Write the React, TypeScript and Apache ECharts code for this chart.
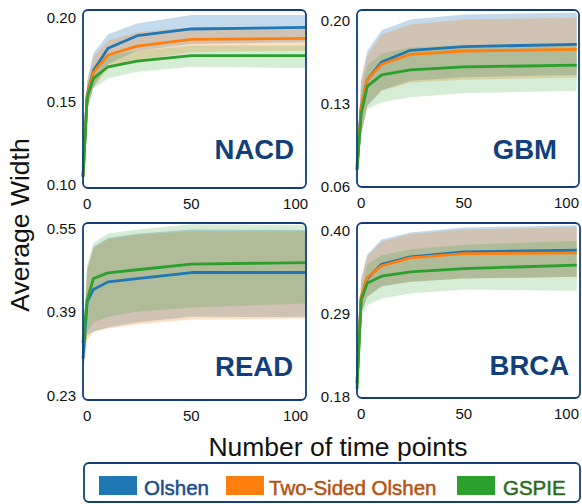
import React, { useEffect, useRef } from "react";
import * as echarts from "echarts";

// ---- data ----
const timePoints = [-2, 0, 3, 10, 24, 50, 105];
const methods = ["Olshen", "Two-Sided Olshen", "GSPIE"];
const panelNames = ["NACD", "GBM", "READ", "BRCA"];

const nacdOlshen = [0.105, 0.1536, 0.168, 0.1814, 0.1889, 0.1929, 0.1939];
const nacdOlshenUpper = [0.11, 0.162, 0.1784, 0.1897, 0.1962, 0.2012, 0.2012];
const nacdOlshenLower = [0.1, 0.145, 0.158, 0.172, 0.18, 0.184, 0.185];
const nacdTwoSided = [0.105, 0.153, 0.167, 0.1774, 0.1827, 0.1867, 0.1873];
const nacdTwoSidedUpper = [0.11, 0.161, 0.176, 0.186, 0.191, 0.194, 0.194];
const nacdTwoSidedLower = [0.1, 0.145, 0.158, 0.169, 0.174, 0.179, 0.18];
const nacdGspie = [0.105, 0.152, 0.1635, 0.1704, 0.1738, 0.177, 0.177];
const nacdGspieUpper = [0.11, 0.159, 0.171, 0.177, 0.18, 0.183, 0.183];
const nacdGspieLower = [0.1, 0.146, 0.1575, 0.1635, 0.1674, 0.1704, 0.1695];

const gbmOlshen = [0.0739, 0.1254, 0.1499, 0.1649, 0.1747, 0.1778, 0.1797];
const gbmOlshenUpper = [0.085, 0.15, 0.1741, 0.1916, 0.2006, 0.2048, 0.2062];
const gbmOlshenLower = [0.065, 0.105, 0.128, 0.141, 0.149, 0.152, 0.154];
const gbmTwoSided = [0.078, 0.1254, 0.1499, 0.163, 0.1713, 0.1741, 0.1755];
const gbmTwoSidedUpper = [0.088, 0.148, 0.17, 0.188, 0.1964, 0.2006, 0.202];
const gbmTwoSidedLower = [0.068, 0.103, 0.1282, 0.1407, 0.1477, 0.15, 0.1519];
const gbmGspie = [0.075, 0.1212, 0.1444, 0.1541, 0.1582, 0.1607, 0.1622];
const gbmGspieUpper = [0.085, 0.14, 0.162, 0.172, 0.177, 0.179, 0.18];
const gbmGspieLower = [0.065, 0.102, 0.1254, 0.131, 0.1352, 0.1385, 0.1407];

const readOlshen = [0.3005, 0.4091, 0.4329, 0.4475, 0.4538, 0.4655, 0.4655];
const readOlshenUpper = [0.33, 0.47, 0.515, 0.532, 0.54, 0.548, 0.5474];
const readOlshenLower = [0.27, 0.345, 0.352, 0.36, 0.37, 0.3803, 0.38];
const readTwoSided: (number | null)[] = [null, null, null, null, null, null, null];
const readTwoSidedUpper = [0.33, 0.47, 0.512, 0.53, 0.538, 0.545, 0.545];
const readTwoSidedLower = [0.27, 0.3355, 0.3515, 0.358, 0.366, 0.375, 0.3773];
const readGspie = [0.33, 0.4124, 0.454, 0.4648, 0.4708, 0.4815, 0.4847];
const readGspieUpper = [0.34, 0.48, 0.5224, 0.5404, 0.548, 0.5583, 0.5563];
const readGspieLower = [0.28, 0.35, 0.37, 0.3803, 0.39, 0.3984, 0.406];

const brcaOlshen = [0.1976, 0.3098, 0.3362, 0.3551, 0.3648, 0.3714, 0.3736];
const brcaOlshenUpper = [0.21, 0.335, 0.368, 0.3877, 0.397, 0.4036, 0.4066];
const brcaOlshenLower = [0.185, 0.29, 0.312, 0.326, 0.332, 0.3362, 0.3384];
const brcaTwoSided = [0.198, 0.312, 0.3376, 0.3529, 0.3634, 0.3692, 0.37];
const brcaTwoSidedUpper = [0.21, 0.335, 0.366, 0.385, 0.395, 0.401, 0.4044];
const brcaTwoSidedLower = [0.185, 0.29, 0.312, 0.326, 0.3318, 0.3362, 0.3384];
const brcaGspie = [0.19, 0.3076, 0.3304, 0.3393, 0.345, 0.3494, 0.3538];
const brcaGspieUpper = [0.2, 0.32, 0.355, 0.367, 0.375, 0.381, 0.3859];
const brcaGspieLower = [0.18, 0.285, 0.301, 0.3098, 0.3164, 0.3217, 0.3199];

const nacdTicks = [0.1, 0.15, 0.2];
const gbmTicks = [0.06, 0.13, 0.2];
const readTicks = [0.23, 0.39, 0.55];
const brcaTicks = [0.18, 0.29, 0.4];
const xTicks = [0, 50, 100];

// ---- styling / layout ----
const FONT = "'Liberation Sans', Arial, Helvetica, sans-serif";
const NAVY = "#123f7c";
const lineColors = ["#1f77b4", "#ff7f0e", "#2ca02c"];
const bandColors = ["rgba(31,119,180,0.27)", "rgba(255,127,14,0.25)", "rgba(44,160,44,0.2)"];
const legendTextColors = ["#1c4d8c", "#b5520f", "#2c6b1d"];

const panels = [
  {
    grid: { left: 83, top: 10, width: 223, height: 178 },
    yRange: [0.0982, 0.2042], ticks: nacdTicks,
    lines: [nacdOlshen, nacdTwoSided, nacdGspie],
    uppers: [nacdOlshenUpper, nacdTwoSidedUpper, nacdGspieUpper],
    lowers: [nacdOlshenLower, nacdTwoSidedLower, nacdGspieLower],
    label: { x: 294, y: 149 },
  },
  {
    grid: { left: 357, top: 10, width: 222, height: 177 },
    yRange: [0.0597, 0.2086], ticks: gbmTicks,
    lines: [gbmOlshen, gbmTwoSided, gbmGspie],
    uppers: [gbmOlshenUpper, gbmTwoSidedUpper, gbmGspieUpper],
    lowers: [gbmOlshenLower, gbmTwoSidedLower, gbmGspieLower],
    label: { x: 557, y: 149 },
  },
  {
    grid: { left: 83, top: 223, width: 223, height: 177 },
    yRange: [0.2204, 0.5607], ticks: readTicks,
    lines: [readOlshen, readTwoSided, readGspie],
    uppers: [readOlshenUpper, readTwoSidedUpper, readGspieUpper],
    lowers: [readOlshenLower, readTwoSidedLower, readGspieLower],
    label: { x: 293, y: 366 },
  },
  {
    grid: { left: 357, top: 223, width: 223, height: 175 },
    yRange: [0.1783, 0.4096], ticks: brcaTicks,
    lines: [brcaOlshen, brcaTwoSided, brcaGspie],
    uppers: [brcaOlshenUpper, brcaTwoSidedUpper, brcaGspieUpper],
    lowers: [brcaOlshenLower, brcaTwoSidedLower, brcaGspieLower],
    label: { x: 569, y: 365 },
  },
];

function buildOption() {
  const grids: any[] = [];
  const xAxes: any[] = [];
  const yAxes: any[] = [];
  const series: any[] = [];
  const graphic: any[] = [];

  panels.forEach((p, i) => {
    grids.push({ ...p.grid });
    xAxes.push({
      type: "value",
      gridIndex: i,
      min: -2,
      max: 105,
      axisLine: { show: false },
      axisTick: { show: false },
      splitLine: { show: false },
      axisLabel: {
        customValues: xTicks,
        margin: 8,
        fontSize: 15,
        color: "#111",
        fontFamily: FONT,
      },
    });
    yAxes.push({
      type: "value",
      gridIndex: i,
      min: p.yRange[0],
      max: p.yRange[1],
      axisLine: { show: false },
      axisTick: { show: false },
      splitLine: { show: false },
      axisLabel: {
        customValues: p.ticks,
        formatter: (v: number) => v.toFixed(2),
        margin: 7,
        fontSize: 15,
        color: "#111",
        fontFamily: FONT,
      },
    });

    // bands
    methods.forEach((m, k) => {
      const up = p.uppers[k];
      const lo = p.lowers[k];
      series.push({
        type: "custom",
        name: m + " band " + i,
        xAxisIndex: i,
        yAxisIndex: i,
        silent: true,
        clip: true,
        z: 1,
        data: [[timePoints[0], up[0]]],
        renderItem: (_params: any, api: any) => {
          const pts: number[][] = [];
          for (let j = 0; j < timePoints.length; j++) pts.push(api.coord([timePoints[j], up[j]]));
          for (let j = timePoints.length - 1; j >= 0; j--) pts.push(api.coord([timePoints[j], lo[j]]));
          return { type: "polygon", shape: { points: pts }, style: { fill: bandColors[k] } };
        },
      });
    });
    // lines
    methods.forEach((m, k) => {
      series.push({
        type: "line",
        name: m,
        xAxisIndex: i,
        yAxisIndex: i,
        z: 3 + k,
        symbol: "none",
        clip: true,
        lineStyle: { color: lineColors[k], width: 2.8 },
        data: timePoints.map((t, j) => [t, p.lines[k][j]]),
      });
    });

    // panel box
    graphic.push({
      type: "rect",
      z: 100,
      shape: { x: p.grid.left, y: p.grid.top, width: p.grid.width, height: p.grid.height, r: 5 },
      style: { fill: "none", stroke: NAVY, lineWidth: 1.8 },
      silent: true,
    });
    graphic.push({
      type: "text",
      z: 101,
      x: p.label.x,
      y: p.label.y,
      style: {
        text: panelNames[i],
        fontSize: 27.5,
        fontWeight: "bold",
        fontFamily: FONT,
        fill: NAVY,
        align: "right",
        verticalAlign: "middle",
      },
    });
  });

  // axis titles
  graphic.push({
    type: "text",
    x: 20,
    y: 225,
    rotation: Math.PI / 2,
    style: {
      text: "Average Width",
      fontSize: 26.5,
      fontFamily: FONT,
      fill: "#111",
      align: "center",
      verticalAlign: "middle",
    },
  });
  graphic.push({
    type: "text",
    x: 338,
    y: 447,
    style: {
      text: "Number of time points",
      fontSize: 26.5,
      fontFamily: FONT,
      fill: "#111",
      align: "center",
      verticalAlign: "middle",
    },
  });

  // legend
  graphic.push({
    type: "rect",
    shape: { x: 84, y: 463, width: 496, height: 39, r: 5 },
    style: { fill: "#fff", stroke: NAVY, lineWidth: 1.8 },
  });
  const legendRectX = [99, 226, 457];
  const legendTextX = [144, 269, 503];
  methods.forEach((m, k) => {
    graphic.push({
      type: "rect",
      z: 101,
      shape: { x: legendRectX[k], y: 476, width: 38, height: 19 },
      style: { fill: lineColors[k] },
    });
    graphic.push({
      type: "text",
      z: 101,
      x: legendTextX[k],
      y: 487,
      style: {
        text: m,
        fontSize: 20.5,
        fontFamily: FONT,
        fill: legendTextColors[k],
        align: "left",
        verticalAlign: "middle",
        stroke: legendTextColors[k],
        lineWidth: 0.5,
      },
    });
  });

  return {
    animation: false,
    backgroundColor: "#fff",
    grid: grids,
    xAxis: xAxes,
    yAxis: yAxes,
    series,
    graphic,
  };
}

export default function App() {
  const ref = useRef<HTMLDivElement>(null);
  useEffect(() => {
    if (!ref.current) return;
    const chart = echarts.init(ref.current, null, { renderer: "svg" });
    chart.setOption(buildOption() as any);
    return () => chart.dispose();
  }, []);
  return (
    <div
      ref={ref}
      style={{ position: "fixed", left: 0, top: 0, width: 582, height: 504 }}
    />
  );
}
